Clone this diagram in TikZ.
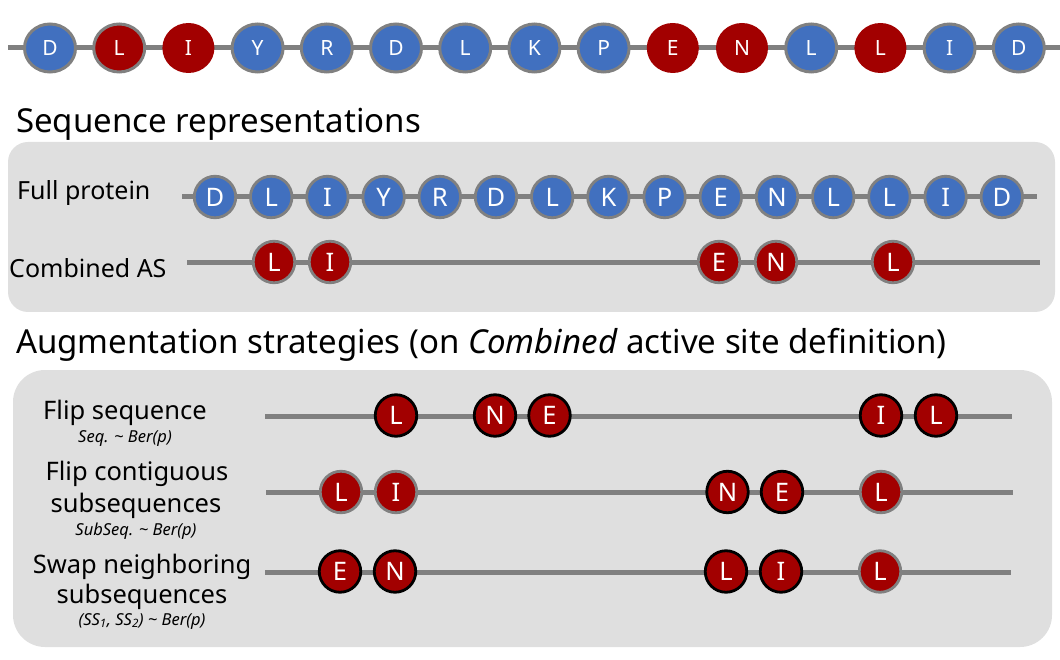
\documentclass[tikz,border=0pt]{standalone}
\usepackage{fontspec}
\setmainfont{Noto Sans}
\usetikzlibrary{shapes.geometric}
\definecolor{aablue}{HTML}{4170BF}
\definecolor{aared}{HTML}{A20000}
\definecolor{rimgray}{HTML}{808080}
\definecolor{panelgray}{HTML}{DFDFDF}
\tikzset{
  seqline/.style={draw=rimgray, line width=5pt},
  topres/.style={ellipse, inner sep=0pt, text=white, font=\fontsize{21}{21}\selectfont, line width=3pt, minimum width=51pt, minimum height=48pt},
  topblue/.style={topres, fill=aablue, draw=rimgray},
  topredrim/.style={topres, fill=aared, draw=rimgray},
  topred/.style={topres, fill=aared, minimum width=52pt, minimum height=50pt},
  res/.style={circle, minimum size=41.5pt, inner sep=0pt, text=white, font=\fontsize{25.5}{25.5}\selectfont, line width=2.8pt},
  bres/.style={res, fill=aablue, draw=rimgray},
  rres/.style={res, fill=aared, draw=rimgray},
  kres/.style={res, fill=aared, draw=black},
  panel/.style={fill=panelgray},
  heading/.style={anchor=base west, inner sep=0pt, font=\fontsize{33}{33}\selectfont},
  rowlabel/.style={anchor=base west, inner sep=0pt, font=\fontsize{25}{25}\selectfont},
  stratlabel/.style={anchor=base, inner sep=0pt, font=\fontsize{25.5}{25.5}\selectfont},
  stratnote/.style={anchor=base, inner sep=0pt, font=\fontsize{16.5}{16.5}\selectfont\itshape},
}
\begin{document}
\begin{tikzpicture}[x=1pt,y=-1pt]
\useasboundingbox (0,0) rectangle (1060,660);

% ---------- top sequence ----------
\coordinate (t0) at (8,48);
\coordinate (t1) at (1060,48);
\draw[seqline] (t0) -- (t1);
\foreach \i/\l/\s in {0/D/topblue,1/L/topredrim,2/I/topred,3/Y/topblue,4/R/topblue,5/D/topblue,6/L/topblue,7/K/topblue,8/P/topblue,9/E/topred,10/N/topred,11/L/topblue,12/L/topred,13/I/topblue,14/D/topblue}
  \node[\s] (top\i) at ({50+69.2*\i},48) {\l};

% ---------- panel 1 ----------
\node[heading] (h1) at (16,133) {Sequence representations};
\path[panel, rounded corners=20pt] (8,142) rectangle (1055,312);

\node[rowlabel] (lfull) at (17,200) {Full protein};
\node[rowlabel] (lcomb) at (9,278) {Combined AS};

\coordinate (f0) at (182,197);
\coordinate (f1) at (1037,197);
\draw[seqline] (f0) -- (f1);
\foreach \i/\l in {0/D,1/L,2/I,3/Y,4/R,5/D,6/L,7/K,8/P,9/E,10/N,11/L,12/L,13/I,14/D}
  \node[bres] (full\i) at ({215+56.2*\i},197) {\l};

\coordinate (c0) at (187,263);
\coordinate (c1) at (1040,263);
\draw[seqline] (c0) -- (c1);
\foreach \x/\l/\n in {274/L/a,330/I/b,719/E/c,776/N/d,893/L/e}
  \node[rres] (comb\n) at (\x,262) {\l};

% ---------- panel 2 ----------
\node[heading] (h2) at (16,353) {Augmentation strategies (on \textit{Combined} active site definition)};
\path[panel, rounded corners=32pt] (13,370) rectangle (1052,647);

\node[stratlabel] (s1a) at (125,419) {Flip sequence};
\node[stratnote]  (s1b) at (125,442) {Seq. \textasciitilde{} Ber(p)};

\node[stratlabel] (s2a) at (137,480) {Flip contiguous};
\node[stratlabel] (s2b) at (136,512) {subsequences};
\node[stratnote]  (s2c) at (136,535) {SubSeq. \textasciitilde{} Ber(p)};

\node[stratlabel] (s3a) at (142,573) {Swap neighboring};
\node[stratlabel] (s3b) at (142,603) {subsequences};
\node[stratnote]  (s3c) at (142,625) {(SS\textsubscript{1}, SS\textsubscript{2}) \textasciitilde{} Ber(p)};

% row 1: flip sequence
\coordinate (r1s) at (265,416);
\coordinate (r1e) at (1012,416);
\draw[seqline] (r1s) -- (r1e);
\foreach \x/\l/\n in {396/L/a,495/N/b,549.5/E/c,881/I/d,936/L/e}
  \node[kres] (fs\n) at (\x,415.5) {\l};

% row 2: flip contiguous subsequences
\coordinate (r2s) at (266,492);
\coordinate (r2e) at (1013,492);
\draw[seqline] (r2s) -- (r2e);
\node[rres] (fc1) at (341,492) {L};
\node[rres] (fc2) at (396,492) {I};
\node[kres] (fc3) at (727.5,492) {N};
\node[kres] (fc4) at (782,492) {E};
\node[rres] (fc5) at (881,492) {L};

% row 3: swap neighboring subsequences
\coordinate (r3s) at (265,572);
\coordinate (r3e) at (1011,572);
\draw[seqline] (r3s) -- (r3e);
\node[kres] (sw1) at (340,571.5) {E};
\node[kres] (sw2) at (395,571.5) {N};
\node[kres] (sw3) at (726,571.5) {L};
\node[kres] (sw4) at (781,571.5) {I};
\node[rres] (sw5) at (880,571.5) {L};
\end{tikzpicture}
\end{document}
